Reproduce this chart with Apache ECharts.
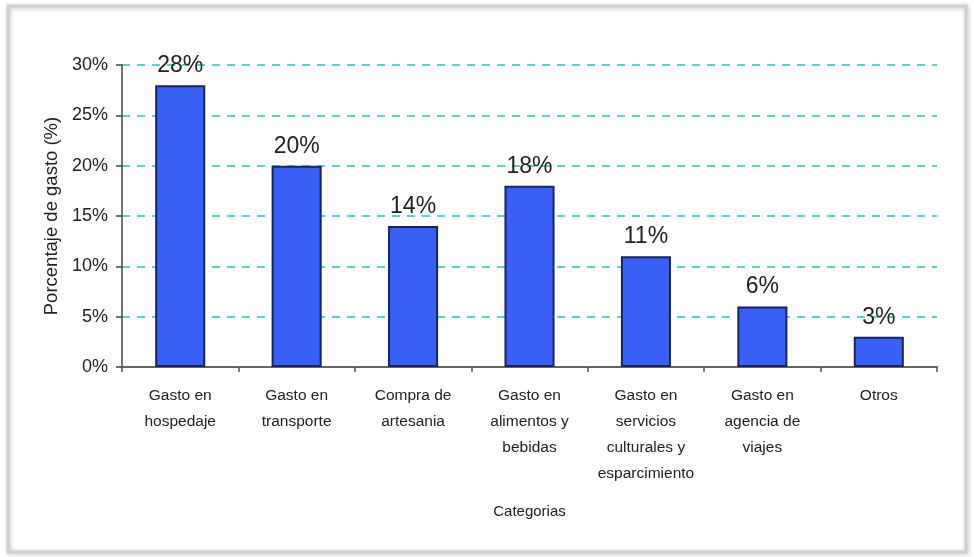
<!DOCTYPE html>
<html>
<head>
<meta charset="utf-8">
<script src="https://cdn.jsdelivr.net/npm/echarts@6/dist/echarts.min.js"></script>
<style>
  html, body { margin: 0; padding: 0; background: #fff; }
  #chart { width: 974px; height: 557px; }
</style>
</head>
<body>
<div id="chart"></div>
<script>
// Distribución del gasto por categoría
const categories = [
  'Gasto en\nhospedaje',
  'Gasto en\ntransporte',
  'Compra de\nartesania',
  'Gasto en\nalimentos y\nbebidas',
  'Gasto en\nservicios\nculturales y\nesparcimiento',
  'Gasto en\nagencia de\nviajes',
  'Otros'
];
const porcentajes = [28, 20, 14, 18, 11, 6, 3];
const yTicks = [0, 5, 10, 15, 20, 25, 30];

const FONT = '"Liberation Sans", Arial, sans-serif';

const chart = echarts.init(document.getElementById('chart'), null, { renderer: 'canvas' });
chart.setOption({
  animation: false,
  backgroundColor: '#ffffff',
  graphic: [{
    type: 'rect',
    shape: { x: 8, y: 6, width: 958, height: 546 },
    style: { fill: 'none', stroke: '#cfcfcf', lineWidth: 3, shadowBlur: 4, shadowColor: 'rgba(0,0,0,0.25)', shadowOffsetX: 1, shadowOffsetY: 1 },
    z: -1
  }],
  grid: { left: 122, right: 37, top: 65, bottom: 190 },
  xAxis: {
    type: 'category',
    data: categories,
    name: 'Categorias',
    nameLocation: 'middle',
    nameGap: 137,
    nameTextStyle: { fontFamily: FONT, fontSize: 15, color: '#222' },
    axisLine: { lineStyle: { color: '#666', width: 2 } },
    axisTick: { show: true, length: 5, lineStyle: { color: '#555', width: 1.5 } },
    axisLabel: { interval: 0, fontFamily: FONT, fontSize: 15.5, lineHeight: 26, color: '#222', margin: 16 }
  },
  yAxis: {
    type: 'value',
    min: yTicks[0],
    max: yTicks[yTicks.length - 1],
    interval: 5,
    name: 'Porcentaje de gasto (%)',
    nameLocation: 'middle',
    nameGap: 58,
    nameTextStyle: { fontFamily: FONT, fontSize: 18.5, color: '#222' },
    axisLine: { show: true, lineStyle: { color: '#444', width: 1.5 } },
    axisTick: { show: true, length: 6, lineStyle: { color: '#444', width: 1.5 } },
    axisLabel: { formatter: '{value}%', fontFamily: FONT, fontSize: 18, color: '#222', margin: 14 },
    splitLine: { show: true, lineStyle: { color: '#5fd0cf', type: [8, 7], width: 2 } }
  },
  series: [{
    type: 'bar',
    data: porcentajes,
    barWidth: '43%',
    itemStyle: { color: '#3a5ff5', borderColor: '#17245e', borderWidth: 2 },
    label: {
      show: true,
      position: 'top',
      distance: 8,
      formatter: '{c}%',
      fontFamily: FONT,
      fontSize: 23,
      color: '#222'
    }
  }]
});
</script>
</body>
</html>
